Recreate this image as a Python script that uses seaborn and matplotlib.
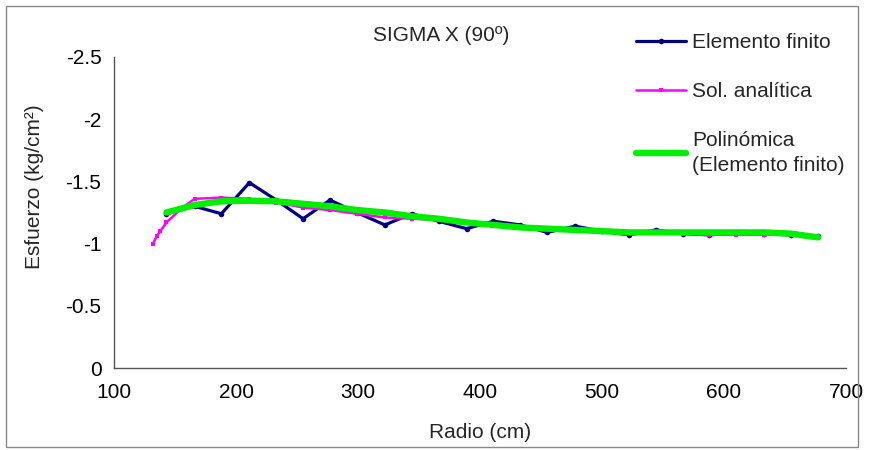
import pandas as pd
import matplotlib
matplotlib.use('Agg')
import matplotlib.pyplot as plt
import seaborn as sns
from matplotlib.patches import Rectangle
from matplotlib.ticker import FuncFormatter, MultipleLocator

# radio (cm) at the element nodes
radio = [143, 166, 188, 211, 233, 255, 277, 299, 322, 344, 366, 389, 411,
         433, 455, 478, 500, 522, 544, 566, 588, 610, 633, 655, 677]
# Elemento finito
sig_fem = [-1.24, -1.30, -1.24, -1.49, -1.35, -1.20, -1.35, -1.25, -1.15,
           -1.24, -1.18, -1.12, -1.18, -1.15, -1.09, -1.14, -1.10, -1.07,
           -1.11, -1.08, -1.07, -1.09, -1.08, -1.07, -1.06]
# Sol. analitica (extra points near the hole)
radio_an = [132, 135, 138, 143, 155, 166, 188, 211, 233, 255, 277, 299, 322,
            344, 366, 389, 411, 433, 455, 478, 500, 522, 544, 566, 588, 610,
            633, 655, 677]
sig_an = [-1.00, -1.06, -1.10, -1.17, -1.28, -1.36, -1.37, -1.36, -1.33,
          -1.29, -1.27, -1.24, -1.21, -1.20, -1.19, -1.17, -1.15, -1.13,
          -1.12, -1.11, -1.10, -1.09, -1.09, -1.08, -1.07, -1.07, -1.07,
          -1.07, -1.06]
# trendline polinomica
sig_poly = [-1.25, -1.31, -1.34, -1.345, -1.34, -1.32, -1.30, -1.27, -1.25,
            -1.22, -1.20, -1.17, -1.15, -1.13, -1.12, -1.11, -1.10, -1.09,
            -1.09, -1.09, -1.09, -1.09, -1.09, -1.08, -1.05]

sns.set_style('white')
plt.rcParams['font.family'] = ['Liberation Sans', 'DejaVu Sans']
plt.rcParams['font.size'] = 15
plt.rcParams['axes.unicode_minus'] = False

W, H = 870, 450
fig = plt.figure(figsize=(W / 100, H / 100), dpi=100)
ax = fig.add_axes([114 / W, 1 - 368 / H, (846 - 114) / W, (368 - 57) / H])

df_fem = pd.DataFrame({'radio': radio, 'sigma': sig_fem})
df_an = pd.DataFrame({'radio': radio_an, 'sigma': sig_an})
df_poly = pd.DataFrame({'radio': radio, 'sigma': sig_poly})

sns.lineplot(data=df_fem, x='radio', y='sigma', ax=ax, color='#000080',
             linewidth=2.3, marker='o', markersize=4, markeredgewidth=0,
             sort=False, label='Elemento finito')
sns.lineplot(data=df_an, x='radio', y='sigma', ax=ax, color='#FF00FF',
             linewidth=1.8, marker='s', markersize=3, markeredgewidth=0,
             sort=False, label='Sol. analítica')
sns.lineplot(data=df_poly, x='radio', y='sigma', ax=ax, color='#00EE00',
             linewidth=4.6, sort=False, label='Polinómica\n(Elemento finito)')

ax.set_xlim(100, 700)
ax.set_ylim(0, -2.5)
ax.xaxis.set_major_locator(MultipleLocator(100))
ax.yaxis.set_major_locator(MultipleLocator(0.5))
ax.yaxis.set_major_formatter(FuncFormatter(lambda v, p: '%g' % v))

for s in ['top', 'right']:
    ax.spines[s].set_visible(False)
for s in ['left', 'bottom']:
    ax.spines[s].set_color('#555555')
    ax.spines[s].set_linewidth(1)
ax.tick_params(axis='both', direction='out', length=4, width=1,
               color='#555555', labelcolor='black', labelsize=15)
ax.tick_params(axis='x', pad=7)
ax.tick_params(axis='y', pad=5)

ax.set_xlabel('Radio (cm)', fontsize=15)
ax.set_ylabel('Esfuerzo (kg/cm²)', fontsize=15)
ax.xaxis.set_label_coords(0.5, -0.177)
ax.yaxis.set_label_coords(-0.095, 0.582)
ax.set_title('SIGMA X (90º)', fontsize=15, x=0.447, y=1.051, pad=0)

leg = ax.legend(loc='upper left', bbox_to_anchor=(636 / W, 1 - 33 / H),
                bbox_transform=fig.transFigure, frameon=False, borderpad=0,
                borderaxespad=0, handlelength=2.4, handletextpad=0.3,
                labelspacing=1.45, fontsize=15)
leg.get_texts()[2].set_linespacing(1.35)

fig.patches.append(Rectangle((6 / W, 1 - 447 / H), (858 - 6) / W, (447 - 6) / H,
                             transform=fig.transFigure, fill=False,
                             edgecolor='#888888', linewidth=1))

fig.savefig('out.png', dpi=100)
